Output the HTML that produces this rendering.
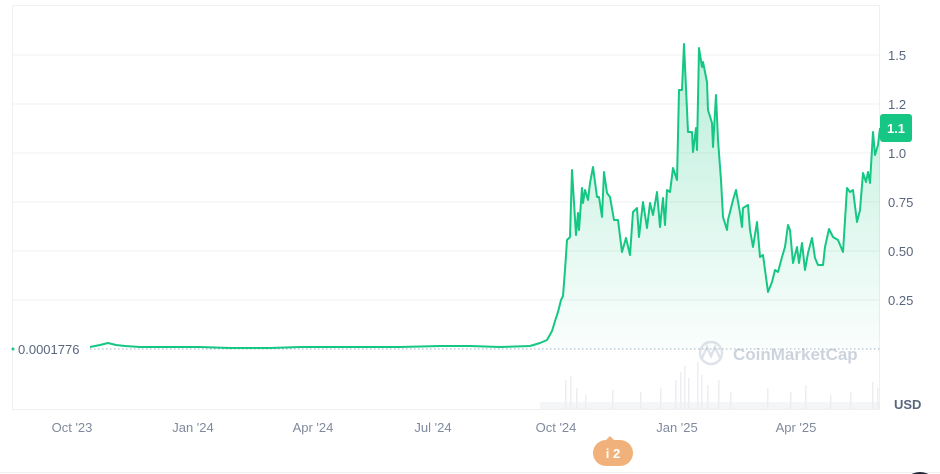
<!DOCTYPE html><html><head><style>html,body{margin:0;padding:0;background:#fff;width:940px;height:474px;overflow:hidden;font-family:"Liberation Sans",sans-serif}svg{display:block}</style></head><body>
<svg width="940" height="474" xmlns="http://www.w3.org/2000/svg" font-family="Liberation Sans, sans-serif">
<defs><linearGradient id="g" x1="0" y1="0" x2="0" y2="1"><stop offset="0" stop-color="#16c784" stop-opacity="0.3"/><stop offset="1" stop-color="#16c784" stop-opacity="0.02"/></linearGradient></defs>
<rect x="12.5" y="5.5" width="867" height="404" fill="none" stroke="#eef0f3"/>
<g stroke="#eef0f3"><line x1="12" x2="880" y1="55" y2="55"/><line x1="12" x2="880" y1="104" y2="104"/><line x1="12" x2="880" y1="153" y2="153"/><line x1="12" x2="880" y1="202" y2="202"/><line x1="12" x2="880" y1="251" y2="251"/><line x1="12" x2="880" y1="300" y2="300"/></g>
<line x1="90" x2="880" y1="349" y2="349" stroke="#a6b0c3" stroke-dasharray="1.5,2.5"/>
<g fill="#eceef1">
<rect x="565" y="380" width="1.5" height="29"/><rect x="570" y="376" width="1.5" height="33"/><rect x="576" y="388" width="1.5" height="21"/><rect x="585" y="395" width="1.5" height="14"/><rect x="612" y="390" width="1.5" height="19"/><rect x="640" y="392" width="1.5" height="17"/><rect x="660" y="388" width="1.5" height="21"/><rect x="675" y="380" width="1.5" height="29"/><rect x="680" y="372" width="1.5" height="37"/><rect x="684" y="366" width="1.5" height="43"/><rect x="688" y="378" width="1.5" height="31"/><rect x="697" y="362" width="1.5" height="47"/><rect x="701" y="375" width="1.5" height="34"/><rect x="707" y="385" width="1.5" height="24"/><rect x="718" y="380" width="1.5" height="29"/><rect x="730" y="392" width="1.5" height="17"/><rect x="767" y="388" width="1.5" height="21"/><rect x="790" y="392" width="1.5" height="17"/><rect x="805" y="385" width="1.5" height="24"/><rect x="830" y="395" width="1.5" height="14"/><rect x="850" y="392" width="1.5" height="17"/><rect x="872" y="382" width="1.5" height="27"/><rect x="877" y="388" width="1.5" height="21"/>
<rect x="540" y="402" width="340" height="7" opacity=".6"/></g>
<path d="M90,347 L100,345 L108,343 L116,345 L125,346 L140,347 L200,347 L230,348 L270,348 L300,347 L350,347 L400,347 L440,346 L470,346 L500,347 L530,346 L540,343 L547,340 L552,331 L556,318 L558,312 L561,300 L563,296 L565,270 L567,240 L570,237 L572,170 L576,235 L578,213 L579,230 L582,188 L583,203 L585,190 L588,200 L590,183 L593,167 L597,197 L599,197 L602,217 L604,172 L607,193 L610,197 L614,220 L618,220 L622,252 L626,238 L630,255 L633,212 L637,208 L639,237 L643,202 L647,228 L650,203 L653,215 L657,192 L660,227 L663,198 L665,225 L667,190 L670,192 L673,168 L677,180 L679,90 L682,90 L684,44 L688,132 L692,132 L693,152 L696,128 L697,150 L699,48 L702,67 L703,62 L707,82 L708,110 L712,123 L713,147 L716,95 L718,140 L721,180 L723,217 L727,230 L728,220 L733,200 L736,190 L740,213 L742,227 L743,208 L748,205 L750,230 L753,247 L757,222 L760,257 L763,255 L768,292 L772,282 L775,270 L778,272 L782,257 L785,247 L788,225 L790,230 L793,263 L797,247 L799,263 L802,243 L805,270 L808,253 L812,238 L815,258 L818,265 L823,265 L825,247 L829,229 L833,237 L838,240 L843,252 L847,188 L850,192 L853,190 L857,222 L860,210 L863,173 L866,182 L868,172 L870,183 L873,132 L875,155 L878,145 L880,128 L880,349 L530,349 Z" fill="url(#g)"/>
<path d="M90,347 L100,345 L108,343 L116,345 L125,346 L140,347 L200,347 L230,348 L270,348 L300,347 L350,347 L400,347 L440,346 L470,346 L500,347 L530,346 L540,343 L547,340 L552,331 L556,318 L558,312 L561,300 L563,296 L565,270 L567,240 L570,237 L572,170 L576,235 L578,213 L579,230 L582,188 L583,203 L585,190 L588,200 L590,183 L593,167 L597,197 L599,197 L602,217 L604,172 L607,193 L610,197 L614,220 L618,220 L622,252 L626,238 L630,255 L633,212 L637,208 L639,237 L643,202 L647,228 L650,203 L653,215 L657,192 L660,227 L663,198 L665,225 L667,190 L670,192 L673,168 L677,180 L679,90 L682,90 L684,44 L688,132 L692,132 L693,152 L696,128 L697,150 L699,48 L702,67 L703,62 L707,82 L708,110 L712,123 L713,147 L716,95 L718,140 L721,180 L723,217 L727,230 L728,220 L733,200 L736,190 L740,213 L742,227 L743,208 L748,205 L750,230 L753,247 L757,222 L760,257 L763,255 L768,292 L772,282 L775,270 L778,272 L782,257 L785,247 L788,225 L790,230 L793,263 L797,247 L799,263 L802,243 L805,270 L808,253 L812,238 L815,258 L818,265 L823,265 L825,247 L829,229 L833,237 L838,240 L843,252 L847,188 L850,192 L853,190 L857,222 L860,210 L863,173 L866,182 L868,172 L870,183 L873,132 L875,155 L878,145 L880,128" fill="none" stroke="#16c784" stroke-width="2" stroke-linejoin="round"/>
<circle cx="13" cy="349" r="1.5" fill="#16c784"/>
<text x="18" y="354" fill="#58667e" font-size="13">0.0001776</text>
<g fill="#58667e" font-size="13"><text x="888" y="60">1.5</text><text x="888" y="109">1.2</text><text x="888" y="158">1.0</text><text x="888" y="207">0.75</text><text x="888" y="256">0.50</text><text x="888" y="305">0.25</text><text x="894" y="409" font-weight="bold">USD</text></g>
<rect x="880" y="114" width="32" height="28" rx="3" fill="#16c784"/><text x="896" y="133" fill="#fff" font-size="13" font-weight="bold" text-anchor="middle">1.1</text>
<g fill="#808a9d" font-size="13" text-anchor="middle"><text x="72" y="432">Oct '23</text><text x="193" y="432">Jan '24</text><text x="313" y="432">Apr '24</text><text x="433" y="432">Jul '24</text><text x="556" y="432">Oct '24</text><text x="677" y="432">Jan '25</text><text x="796" y="432">Apr '25</text></g>
<g opacity=".35" fill="none" stroke="#a6b0c3" stroke-width="2.5"><circle cx="711" cy="353" r="11"/><path d="M702,358 L707,347 L711,356 L715,347 L720,358"/></g>
<text x="733" y="360" fill="#a6b0c3" opacity=".55" font-size="17" font-weight="bold">CoinMarketCap</text>
<path d="M606,440 L610,436 L614,440 Z" fill="#f0b27a"/>
<rect x="593" y="440" width="40" height="26" rx="13" fill="#f0b27a"/><text x="613" y="458" fill="#fff" font-size="13" font-weight="bold" text-anchor="middle">i  2</text>
<line x1="0" x2="940" y1="472.5" y2="472.5" stroke="#eef0f3"/>
<circle cx="920" cy="490" r="18" fill="#222531"/>
</svg></body></html>
